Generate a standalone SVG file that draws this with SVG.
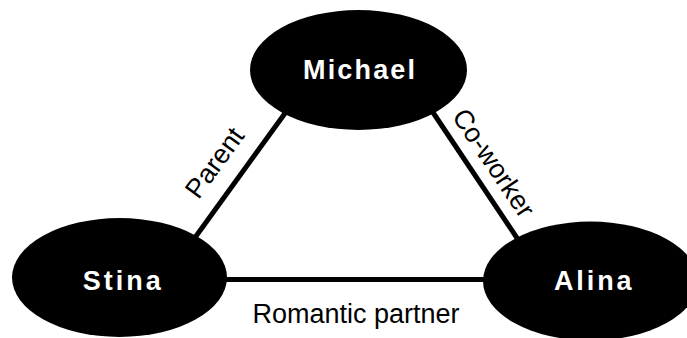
<svg xmlns="http://www.w3.org/2000/svg" width="687" height="338" viewBox="0 0 687 338">
<style>
.edge{stroke:#000;stroke-width:5;fill:none}
.node{fill:#000}
.nl{font-family:"Liberation Sans",Arial,sans-serif;font-weight:bold;font-size:27px;fill:#fff;text-anchor:middle}
.el{font-family:"Liberation Sans",Arial,sans-serif;font-size:27px;fill:#000;text-anchor:middle}
</style>
<rect width="687" height="338" fill="#fff"/>
<g id="connectors">
<line class="edge" x1="186" y1="250" x2="291" y2="105"/>
<line class="edge" x1="428" y1="105" x2="525" y2="250"/>
<line class="edge" x1="200" y1="279.5" x2="500" y2="279.5"/>
<text class="el" transform="translate(222,168) rotate(-54)">Parent</text>
<text class="el" transform="translate(486,168) rotate(56)">Co-worker</text>
<text class="el" x="356" y="322.7">Romantic partner</text>
</g>
<g id="michael">
<ellipse class="node" cx="358.5" cy="70" rx="108.5" ry="60"/>
<text class="nl" x="359" y="79.3" textLength="112" lengthAdjust="spacing">Michael</text>
</g>
<g id="stina">
<ellipse class="node" cx="119.5" cy="277.5" rx="107.5" ry="59.5"/>
<text class="nl" x="121.7" y="290" textLength="78" lengthAdjust="spacing">Stina</text>
</g>
<g id="alina">
<ellipse class="node" cx="590.5" cy="281" rx="107.5" ry="59.5"/>
<text class="nl" x="592.8" y="290" textLength="77.7" lengthAdjust="spacing">Alina</text>
</g>
</svg>
